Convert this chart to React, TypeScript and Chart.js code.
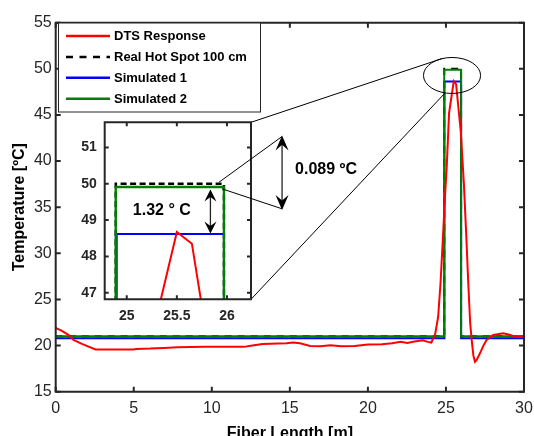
import React, { useEffect, useRef } from 'react';
import { Chart, registerables } from 'chart.js';

Chart.register(...registerables);

const W = 534;
const H = 436;
const FONT = "'Liberation Sans', Arial, Helvetica, sans-serif";
const AXIS_COLOR = '#262626';

// ---------------- data ----------------
const seriesLabels = ['DTS Response', 'Real Hot Spot 100 cm', 'Simulated 1', 'Simulated 2'];

const dtsX = [0, 0.37, 0.81, 1.14, 1.68, 2.55, 4.96, 5.17, 6.05, 6.92, 7.79, 9.54, 12.05, 12.6, 13.25, 14.78, 15.2, 15.65, 16.3, 16.97, 17.6, 18.28, 19.15, 20.0, 20.9, 21.55, 22.1, 22.53, 22.97, 23.52, 23.84, 24.06, 24.3, 24.5, 24.65, 24.8, 24.95, 25.05, 25.2, 25.5, 25.65, 25.95, 26.15, 26.3, 26.43, 26.55, 26.65, 26.76, 26.86, 26.95, 27.18, 27.4, 27.6, 28.03, 28.4, 28.67, 29.0, 29.31, 30.0];
const dtsY = [21.92, 21.63, 21.16, 20.62, 20.18, 19.57, 19.57, 19.64, 19.67, 19.75, 19.82, 19.86, 19.86, 20.0, 20.18, 20.25, 20.33, 20.25, 19.96, 19.93, 20.04, 19.93, 19.96, 20.11, 20.14, 20.25, 20.4, 20.29, 20.43, 20.58, 20.4, 20.33, 21.15, 23.1, 26.7, 31.5, 36.5, 39.4, 45.2, 48.67, 48.35, 43.2, 37.5, 32.0, 26.75, 22.5, 20.6, 18.9, 18.25, 18.4, 19.16, 20.0, 20.6, 21.15, 21.25, 21.33, 21.2, 21.04, 21.0];

const realX = [0, 24.89, 24.89, 25.97, 25.97, 30];
const realY = [21.0, 21.0, 50.0, 50.0, 21.0, 21.0];

const sim1X = [0, 24.9, 24.9, 25.97, 25.97, 30];
const sim1Y = [20.8, 20.8, 48.62, 48.62, 20.8, 20.8];

const sim2X = [0, 24.89, 24.89, 25.97, 25.97, 30];
const sim2Y = [21.02, 21.02, 49.91, 49.91, 21.02, 21.02];

const mainXRange = [0, 30];
const mainYRange = [15, 55];
const mainXStep = 5;
const mainYStep = 5;

const insetXRange = [24.78, 26.24];
const insetYRange = [46.82, 51.69];
const insetXTicks = [25, 25.5, 26];
const insetYTicks = [47, 48, 49, 50, 51];

const axisTitles = ['Fiber Length [m]', 'Temperature [ºC]'];
const diffLabels = ['1.32 ° C', '0.089 ºC'];

// ---------------- layout (pixels) ----------------
const MAIN = { left: 55.7, top: 22.7, right: 524, bottom: 391.7 };
const INSET = { left: 104.7, top: 122.3, right: 251, bottom: 299.3 };
const ZOOM_ELLIPSE = { x: 25.39, y: 49.28, rx: 1.83, ry: 1.95 };

const colors = ['#ff0000', '#000000', '#0000ff', '#008000'];

function pts(xs: number[], ys: number[]) {
  return xs.map((x, i) => ({ x, y: ys[i] }));
}

function makeDatasets(inset: boolean) {
  const w = inset ? 2.4 : 2;
  const common = { pointRadius: 0, tension: 0, fill: false, clip: inset ? 0 : 2 } as any;
  return [
    { ...common, label: seriesLabels[0], data: pts(dtsX, dtsY), borderColor: colors[0], borderWidth: 2, order: 0 },
    { ...common, label: seriesLabels[1], data: pts(realX, realY), borderColor: colors[1], borderWidth: w, borderDash: inset ? [6, 3.5] : [7, 6], order: 3 },
    { ...common, label: seriesLabels[2], data: pts(sim1X, sim1Y), borderColor: colors[2], borderWidth: 2, order: 2 },
    { ...common, label: seriesLabels[3], data: pts(sim2X, sim2Y), borderColor: colors[3], borderWidth: w, order: 1 },
  ];
}

function drawFrame(chart: any, tickLen: number) {
  const { ctx, chartArea: a, scales } = chart;
  ctx.save();
  ctx.strokeStyle = AXIS_COLOR;
  ctx.lineWidth = 2;
  ctx.beginPath();
  ctx.rect(a.left, a.top, a.right - a.left, a.bottom - a.top);
  ctx.stroke();
  ctx.beginPath();
  for (const t of scales.x.ticks) {
    const px = scales.x.getPixelForValue(t.value);
    ctx.moveTo(px, a.bottom);
    ctx.lineTo(px, a.bottom - tickLen);
    ctx.moveTo(px, a.top);
    ctx.lineTo(px, a.top + tickLen);
  }
  for (const t of scales.y.ticks) {
    const py = scales.y.getPixelForValue(t.value);
    ctx.moveTo(a.left, py);
    ctx.lineTo(a.left + tickLen, py);
    ctx.moveTo(a.right, py);
    ctx.lineTo(a.right - tickLen, py);
  }
  ctx.stroke();
  ctx.restore();
}

function arrowHead(ctx: CanvasRenderingContext2D, x: number, tipY: number, dir: number, len: number, hw: number) {
  ctx.beginPath();
  ctx.moveTo(x, tipY);
  ctx.lineTo(x - hw, tipY - dir * len);
  ctx.lineTo(x, tipY - dir * len * 0.62);
  ctx.lineTo(x + hw, tipY - dir * len);
  ctx.closePath();
  ctx.fill();
}

function doubleArrow(ctx: CanvasRenderingContext2D, x: number, y1: number, y2: number, len: number, hw: number) {
  ctx.save();
  ctx.strokeStyle = '#222';
  ctx.fillStyle = '#000';
  ctx.lineWidth = 1.3;
  ctx.beginPath();
  ctx.moveTo(x, y1 + len * 0.5);
  ctx.lineTo(x, y2 - len * 0.5);
  ctx.stroke();
  arrowHead(ctx, x, y1, -1, len, hw);
  arrowHead(ctx, x, y2, 1, len, hw);
  ctx.restore();
}

function fixX(height: number) {
  return (s: any) => {
    s.height = height;
    s.paddingLeft = 0;
    s.paddingRight = 0;
  };
}

function fixY(width: number) {
  return (s: any) => {
    s.width = width;
    s.paddingTop = 0;
    s.paddingBottom = 0;
  };
}

const mainPlugin = {
  id: 'mainDecor',
  afterDraw(chart: any) {
    const { ctx, chartArea: a, scales } = chart;
    const xs = scales.x;
    const ys = scales.y;
    drawFrame(chart, 5);

    // axis titles
    ctx.save();
    ctx.fillStyle = '#000';
    ctx.font = `bold 16px ${FONT}`;
    ctx.textAlign = 'center';
    ctx.textBaseline = 'alphabetic';
    ctx.fillText(axisTitles[0], (a.left + a.right) / 2, 438);
    ctx.translate(19.5, (a.top + a.bottom) / 2);
    ctx.rotate(-Math.PI / 2);
    ctx.textBaseline = 'middle';
    ctx.fillText(axisTitles[1], 0, 0);
    ctx.restore();

    // zoom ellipse and connector lines
    const cx = xs.getPixelForValue(ZOOM_ELLIPSE.x);
    const cy = ys.getPixelForValue(ZOOM_ELLIPSE.y);
    const rx = xs.getPixelForValue(ZOOM_ELLIPSE.x + ZOOM_ELLIPSE.rx) - cx;
    const ry = cy - ys.getPixelForValue(ZOOM_ELLIPSE.y + ZOOM_ELLIPSE.ry);
    ctx.save();
    ctx.strokeStyle = '#000';
    ctx.lineWidth = 1;
    ctx.beginPath();
    ctx.ellipse(cx, cy, rx, ry, 0, 0, Math.PI * 2);
    ctx.stroke();
    const a1 = (249 * Math.PI) / 180;
    const a2 = (104 * Math.PI) / 180;
    ctx.beginPath();
    ctx.moveTo(INSET.right, INSET.top);
    ctx.lineTo(cx + rx * Math.cos(a1), cy + ry * Math.sin(a1));
    ctx.moveTo(INSET.right, INSET.bottom);
    ctx.lineTo(cx + rx * Math.cos(a2), cy + ry * Math.sin(a2));
    ctx.stroke();
    ctx.restore();

    // legend
    const lx = 58.5, ly = 23, lw = 202, lh = 89;
    ctx.save();
    ctx.fillStyle = '#fff';
    ctx.fillRect(lx, ly, lw, lh);
    ctx.strokeStyle = AXIS_COLOR;
    ctx.lineWidth = 1;
    ctx.strokeRect(lx, ly, lw, lh);
    ctx.font = `bold 13px ${FONT}`;
    ctx.textBaseline = 'middle';
    ctx.textAlign = 'left';
    chart.data.datasets.forEach((ds: any, i: number) => {
      const y = 36 + i * 20.9;
      ctx.strokeStyle = ds.borderColor;
      ctx.lineWidth = 2.5;
      ctx.setLineDash(ds.borderDash ? [7, 6.5] : []);
      ctx.beginPath();
      ctx.moveTo(66, y);
      ctx.lineTo(110, y);
      ctx.stroke();
      ctx.setLineDash([]);
      ctx.fillStyle = '#000';
      ctx.fillText(ds.label, 114, y + 0.5);
    });
    ctx.restore();
  },
};

const insetPlugin = {
  id: 'insetDecor',
  beforeDatasetsDraw(chart: any) {
    const { ctx, chartArea: a } = chart;
    ctx.save();
    ctx.fillStyle = '#fff';
    ctx.fillRect(a.left, a.top, a.right - a.left, a.bottom - a.top);
    ctx.restore();
  },
  afterDraw(chart: any) {
    const { ctx, scales } = chart;
    const xs = scales.x;
    const ys = scales.y;
    drawFrame(chart, 4);

    ctx.save();
    ctx.strokeStyle = '#000';
    ctx.lineWidth = 1;
    ctx.beginPath();
    ctx.moveTo(xs.getPixelForValue(25.92), ys.getPixelForValue(50.04));
    ctx.lineTo(xs.getPixelForValue(26.55), ys.getPixelForValue(51.3));
    ctx.moveTo(xs.getPixelForValue(25.95), ys.getPixelForValue(49.86));
    ctx.lineTo(xs.getPixelForValue(26.55), ys.getPixelForValue(49.31));
    ctx.stroke();
    ctx.restore();

    const ax1 = xs.getPixelForValue(25.835);
    doubleArrow(ctx, ax1, ys.getPixelForValue(sim2Y[2]) + 2.5, ys.getPixelForValue(sim1Y[2]) - 0.5, 12, 6);
    const ax2 = xs.getPixelForValue(26.55);
    doubleArrow(ctx, ax2, ys.getPixelForValue(51.33), ys.getPixelForValue(49.28), 15, 6.5);

    ctx.save();
    ctx.fillStyle = '#000';
    ctx.font = `bold 16px ${FONT}`;
    ctx.textBaseline = 'middle';
    ctx.textAlign = 'center';
    ctx.fillText(diffLabels[0], xs.getPixelForValue(25.35), ys.getPixelForValue(49.27));
    ctx.textAlign = 'left';
    ctx.fillText(diffLabels[1], xs.getPixelForValue(26.68), ys.getPixelForValue(50.38));
    ctx.restore();
  },
};

export default function App() {
  const mainRef = useRef<HTMLCanvasElement>(null);
  const insetRef = useRef<HTMLCanvasElement>(null);

  useEffect(() => {
    const tickFont = { family: FONT, size: 16 };
    const main = new Chart(mainRef.current as HTMLCanvasElement, {
      type: 'line',
      data: { datasets: makeDatasets(false) as any },
      options: {
        animation: false,
        responsive: false,
        devicePixelRatio: 1,
        events: [],
        layout: { padding: { left: 0, top: MAIN.top, right: W - MAIN.right, bottom: 0 } },
        plugins: { legend: { display: false }, tooltip: { enabled: false }, title: { display: false } },
        scales: {
          x: {
            type: 'linear',
            min: mainXRange[0],
            max: mainXRange[1],
            ticks: { stepSize: mainXStep, font: tickFont, color: AXIS_COLOR, padding: 7, maxRotation: 0, autoSkip: false },
            grid: { display: false, drawTicks: false },
            border: { display: false },
            afterFit: fixX(H - MAIN.bottom),
          },
          y: {
            type: 'linear',
            min: mainYRange[0],
            max: mainYRange[1],
            ticks: { stepSize: mainYStep, font: tickFont, color: AXIS_COLOR, padding: 4 },
            grid: { display: false, drawTicks: false },
            border: { display: false },
            afterFit: fixY(MAIN.left),
          },
        } as any,
      },
      plugins: [mainPlugin],
    });

    const insetTickFont = { family: FONT, size: 14, weight: 'bold' };
    const yW = 40, xH = 30;
    const inset = new Chart(insetRef.current as HTMLCanvasElement, {
      type: 'line',
      data: { datasets: makeDatasets(true) as any },
      options: {
        animation: false,
        responsive: false,
        devicePixelRatio: 1,
        events: [],
        layout: { padding: { left: INSET.left - yW, top: INSET.top, right: W - INSET.right, bottom: H - INSET.bottom - xH } },
        plugins: { legend: { display: false }, tooltip: { enabled: false }, title: { display: false } },
        scales: {
          x: {
            type: 'linear',
            min: insetXRange[0],
            max: insetXRange[1],
            afterBuildTicks: (s: any) => { s.ticks = insetXTicks.map((v) => ({ value: v })); },
            ticks: { font: insetTickFont, color: AXIS_COLOR, padding: 8, maxRotation: 0, autoSkip: false, callback: (v: any) => String(v) },
            grid: { display: false, drawTicks: false },
            border: { display: false },
            afterFit: fixX(xH),
          },
          y: {
            type: 'linear',
            min: insetYRange[0],
            max: insetYRange[1],
            afterBuildTicks: (s: any) => { s.ticks = insetYTicks.map((v) => ({ value: v })); },
            ticks: { font: insetTickFont, color: AXIS_COLOR, padding: 8, autoSkip: false, callback: (v: any) => String(v) },
            grid: { display: false, drawTicks: false },
            border: { display: false },
            afterFit: fixY(yW),
          },
        } as any,
      },
      plugins: [insetPlugin],
    });

    return () => {
      inset.destroy();
      main.destroy();
    };
  }, []);

  return (
    <div style={{ position: 'fixed', left: 0, top: 0, width: W, height: H, background: '#fff', overflow: 'hidden' }}>
      <canvas ref={mainRef} width={W} height={H} style={{ position: 'absolute', left: 0, top: 0, width: W, height: H }} />
      <canvas ref={insetRef} width={W} height={H} style={{ position: 'absolute', left: 0, top: 0, width: W, height: H }} />
    </div>
  );
}
